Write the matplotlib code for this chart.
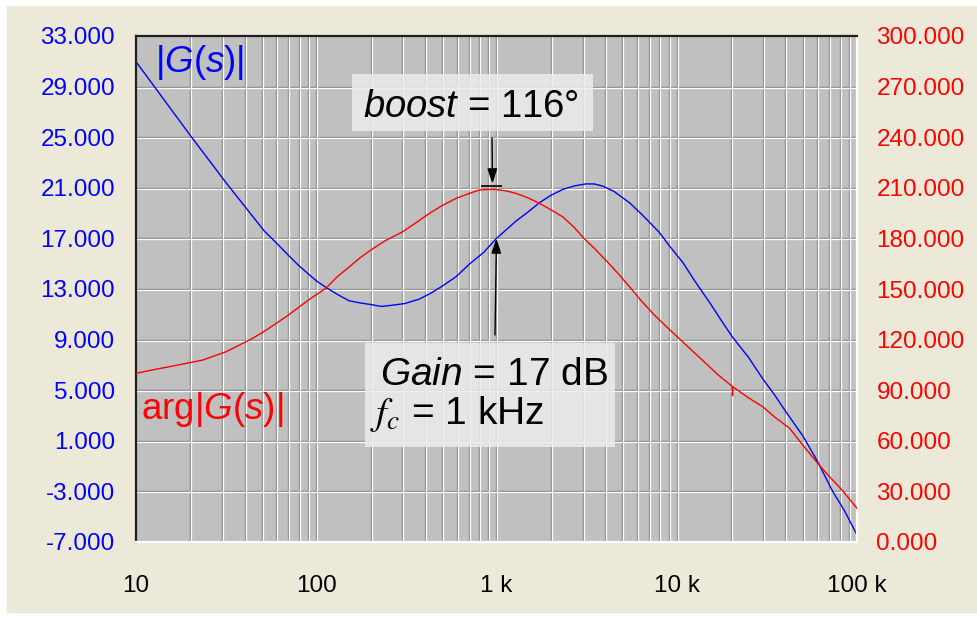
import numpy as np
import matplotlib
matplotlib.use("Agg")
import matplotlib.pyplot as plt
from matplotlib.patches import Rectangle
from matplotlib.transforms import ScaledTranslation, blended_transform_factory
from matplotlib.ticker import NullLocator

plt.rcParams['font.family'] = ['Liberation Sans', 'DejaVu Sans']
plt.rcParams['mathtext.fontset'] = 'custom'
plt.rcParams['mathtext.rm'] = 'Liberation Sans'
plt.rcParams['mathtext.it'] = 'Liberation Sans:italic'

# magnitude |G(s)| in dB
freq_mag = [10, 20.2, 31.6, 51.5, 60, 68, 80, 100, 113, 130, 152, 175, 205, 230, 265,
            310, 373, 430, 503, 600, 706, 850, 1000, 1283, 1500, 1730, 2000, 2330,
            2700, 3140, 3500, 3890, 4500, 5470, 6500, 8020, 9000, 10800, 12500,
            15200, 17500, 20400, 25000, 30000, 35000, 40400, 50000, 60500, 73300,
            85000, 100000]
mag_db = [30.97, 25.06, 21.4, 17.58, 16.65, 15.85, 14.85, 13.65, 13.13, 12.6, 12.07,
          11.9, 11.75, 11.62, 11.72, 11.85, 12.2, 12.65, 13.25, 14.0, 14.96, 15.9,
          17.0, 18.37, 19.1, 19.82, 20.4, 20.87, 21.15, 21.31, 21.3, 21.13, 20.7,
          19.82, 18.8, 17.46, 16.5, 15.1, 13.7, 11.94, 10.6, 9.19, 7.6, 5.9, 4.6,
          3.28, 1.4, -0.65, -3.0, -4.5, -6.44]

# phase arg G(s) in degrees (small glitch at 20 kHz)
freq_ph = [10, 13, 15.3, 23.5, 31.6, 42.5, 50, 59.9, 70, 80.7, 95, 113, 130, 152, 175,
           197, 240, 301, 360, 424, 500, 596, 700, 802, 900, 1000, 1150, 1283, 1500,
           1730, 2000, 2330, 2700, 3055, 3500, 4030, 4700, 5470, 6300, 7350, 8700,
           10300, 12300, 14500, 17000, 20400, 20400, 20400, 25000, 30000, 35000,
           42300, 50000, 60500, 70000, 82600, 100000]
phase = [100.0, 102.5, 103.9, 107.9, 112.8, 119.7, 124.0, 129.6, 134.5, 139.5, 145.0,
         150.4, 157.0, 163.0, 168.5, 172.5, 178.5, 183.9, 189.5, 194.8, 199.5, 203.7,
         206.5, 208.7, 209.0, 209.0, 208.0, 206.7, 204.0, 200.8, 197.0, 192.8, 186.5,
         180.0, 174.0, 167.2, 159.5, 151.3, 143.5, 135.6, 128.0, 120.7, 113.0, 105.9,
         99.0, 92.1, 87.0, 92.1, 85.5, 80.2, 74.0, 67.4, 57.5, 46.7, 39.0, 30.8, 20.0]

x_ticks = [10, 100, 1000, 10000, 100000]
x_labels = ['10', '100', '1 k', '10 k', '100 k']
db_ticks = np.arange(-7, 34, 4)
deg_ticks = np.arange(0, 301, 30)

f_c = 1000
gain_fc = 17
boost = 116
peak_phase = 209.0

W, H = 978, 617
fig = plt.figure(figsize=(W / 100, H / 100), dpi=100)
fig.patch.set_facecolor('white')
fig.patches.append(Rectangle((7 / W, (H - 613) / H), (W - 7) / W, (613 - 6) / H,
                             transform=fig.transFigure, facecolor='#ECE9D8',
                             edgecolor='none', zorder=-10))

ax = fig.add_axes([136 / W, 1 - 542 / H, (857 - 136) / W, (542 - 36) / H])
ax.set_facecolor('#C0C0C0')
ax.set_xscale('log')
ax.set_xlim(10, 100000)
ax.set_ylim(-7, 33)

# 3d style grid: gray line with a white line next to it
px = ScaledTranslation(1 / 100, 0, fig.dpi_scale_trans)
py = ScaledTranslation(0, -1 / 100, fig.dpi_scale_trans)
vt = blended_transform_factory(ax.transData, ax.transAxes)
ht = blended_transform_factory(ax.transAxes, ax.transData)
grid_x = [m * 10 ** d for d in range(1, 5) for m in range(1, 10)][1:]
for gx in grid_x:
    ax.plot([gx, gx], [0, 1], color='#8a8a8a', lw=1.0, transform=vt, zorder=0.5)
    ax.plot([gx, gx], [0, 1], color='white', lw=0.9, transform=vt + px, zorder=0.6)
for gy in db_ticks[1:-1]:
    ax.plot([0, 1], [gy, gy], color='#8a8a8a', lw=1.0, transform=ht, zorder=0.5)
    ax.plot([0, 1], [gy, gy], color='white', lw=0.9, transform=ht + py, zorder=0.6)

ax.plot(freq_mag, mag_db, color='#0000FF', lw=1.0, zorder=2)

ax.set_xticks(x_ticks, labels=x_labels)
ax.xaxis.set_minor_locator(NullLocator())
ax.set_yticks(db_ticks, labels=['%.3f' % v for v in db_ticks])
ax.tick_params(axis='x', length=0, pad=24, labelsize=17.5, colors='black')
ax.tick_params(axis='y', length=0, pad=15, labelsize=17.5, labelcolor='#0000FF')
for s in ['top', 'left']:
    ax.spines[s].set_color('#202020')
    ax.spines[s].set_linewidth(1.6)
for s in ['bottom', 'right']:
    ax.spines[s].set_color('white')
    ax.spines[s].set_linewidth(1.6)

ax2 = ax.twinx()
ax2.set_ylim(0, 300)
ax2.plot(freq_ph, phase, color='#FF0000', lw=1.0, zorder=2)
ax2.set_yticks(deg_ticks, labels=['%.3f' % v for v in deg_ticks])
ax2.tick_params(axis='y', length=0, pad=14, labelsize=17.5, labelcolor='#FF0000')
for s in ax2.spines.values():
    s.set_visible(False)

# marker for the phase peak and the arrows
ax2.hlines(peak_phase + 1.8, 820, 1075, color='black', lw=1.2)
arrow = '-|>,head_length=0.6,head_width=0.2'
ax2.annotate('', xy=(950, peak_phase + 3.5), xycoords='data',
             xytext=(492, H - 138), textcoords='figure pixels',
             arrowprops=dict(arrowstyle=arrow, color='black', lw=1.0,
                             mutation_scale=15, shrinkA=0, shrinkB=0))
ax.annotate('', xy=(f_c, gain_fc), xycoords='data',
            xytext=(495, H - 335), textcoords='figure pixels',
            arrowprops=dict(arrowstyle=arrow, color='black', lw=1.0,
                            mutation_scale=15, shrinkA=0, shrinkB=0))

# label boxes
for x0, y0, x1, y1 in [(352, 74, 593, 131), (365, 343, 615, 447)]:
    fig.patches.append(Rectangle((x0 / W, 1 - y1 / H), (x1 - x0) / W, (y1 - y0) / H,
                                 transform=fig.transFigure, facecolor='#ECECEC',
                                 edgecolor='none', alpha=0.85, zorder=3))

fig.text(363 / W, 1 - 117 / H, r'$boost$ = %d°' % boost, fontsize=27.5,
         color='black', va='baseline', zorder=4)
fig.text(380 / W, 1 - 385 / H, r'$Gain$ = %d dB' % gain_fc, fontsize=28,
         color='black', va='baseline', zorder=4)
fig.text(370 / W, 1 - 424 / H, r'$f_c$ = %d kHz' % (f_c // 1000), fontsize=28,
         color='black', va='baseline', math_fontfamily='stix', zorder=4)

fig.text(155 / W, 1 - 72 / H, r'|$G(s)$|', fontsize=26.5, color='#0000FF',
         va='baseline', zorder=4)
fig.text(141 / W, 1 - 419 / H, r'arg|$G(s)$|', fontsize=26.5, color='#FF0000',
         va='baseline', zorder=4)

fig.savefig('out.png', dpi=100)
